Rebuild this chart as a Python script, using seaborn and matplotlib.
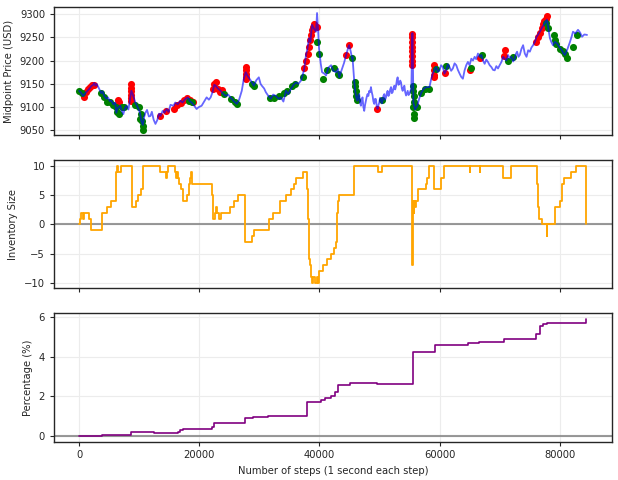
import numpy as np
import pandas as pd
import matplotlib
matplotlib.use("Agg")
import matplotlib.pyplot as plt
import seaborn as sns

# Midpoint price path (step, USD)
price_step = [0, 300, 668, 900, 1170, 1504, 1800, 2005, 2339, 2507, 2700, 2900, 3200, 3676, 3900,
              4178, 4512, 4800, 5100, 5347, 5700, 6000, 6183, 6400, 6851, 7100, 7352, 7600, 7854,
              8200, 8689, 8900, 9358, 9600, 9859, 10100, 10360, 10600, 10800, 11029, 11300, 11600,
              11864, 12100, 12400, 12700, 13000, 13300, 13535, 13900, 14200, 14538, 14900, 15200,
              15707, 16000, 16400, 16877, 17200, 17713, 18100, 18400, 18715, 19100, 19551, 19900,
              20386, 20800, 21222, 21600, 21890, 22200, 22500, 22726, 23100, 23561, 24000, 24397,
              24800, 25399, 25800, 26235, 26600, 27070, 27400, 27739, 28000, 28574, 28900, 29075,
              29500, 29911, 30200, 30412, 30800, 31081, 31500, 31916, 32300, 32752, 33200, 33587,
              34000, 34423, 34800, 35258, 35700, 36094, 36500, 36929, 37430, 37765, 38000, 38266,
              38500, 38767, 39100, 39436, 39603, 39800, 39937, 40200, 40438, 40800, 41107, 41500,
              41942, 42300, 42778, 43100, 43279, 43600, 43780, 44100, 44449, 44800, 44950, 45200,
              45451, 45502, 45786, 45953, 46150, 46337, 46480, 46621, 46760, 46905, 47040, 47172,
              47320, 47456, 47600, 47740, 47870, 48007, 48150, 48292, 48430, 48576, 48700, 48843,
              48990, 49127, 49270, 49411, 49540, 49679, 49820, 49963, 50100, 50247, 50380, 50514,
              50650, 50798, 50940, 51082, 51220, 51349, 51490, 51634, 51780, 51918, 52050, 52185,
              52330, 52469, 52610, 52753, 52890, 53020, 53160, 53305, 53450, 53589, 53720, 53856,
              54000, 54140, 54280, 54424, 54560, 54691, 54830, 54976, 55300, 55477, 55560, 55644,
              55900, 56313, 56600, 56982, 57400, 57817, 58319, 58600, 58871, 59150, 59439, 59700,
              59989, 60250, 60541, 60820, 61109, 61380, 61660, 61930, 62211, 62500, 62780, 63050,
              63331, 63600, 63882, 64020, 64166, 64440, 64718, 65000, 65286, 65560, 65837, 66100,
              66388, 66670, 66957, 67230, 67508, 67780, 68059, 68340, 68628, 68900, 69179, 69450,
              69730, 70000, 70299, 70570, 70850, 71120, 71401, 71680, 71969, 72240, 72521, 72700,
              72905, 73130, 73357, 73630, 73908, 74190, 74477, 74750, 75028, 75300, 75579, 75860,
              76147, 76364, 76700, 77033, 77400, 77868, 78100, 78370, 78600, 78871, 79200, 79539,
              79900, 80375, 80600, 80876, 81300, 81712, 82000, 82213, 82600, 83048, 83400, 83716,
              84100, 84552]
price_usd = [9135, 9131, 9124, 9128, 9132, 9137, 9141, 9145, 9148, 9152, 9146, 9150, 9143, 9130, 9134,
             9124, 9118, 9121, 9113, 9114, 9106, 9110, 9088, 9098, 9103, 9092, 9085, 9097, 9103,
             9095, 9135, 9128, 9110, 9104, 9096, 9089, 9070, 9062, 9078, 9088, 9094, 9080,
             9081, 9090, 9073, 9064, 9072, 9086, 9081, 9092, 9088, 9096, 9090, 9105,
             9103, 9110, 9106, 9114, 9110, 9118, 9121, 9113, 9110, 9104, 9096, 9100,
             9103, 9112, 9121, 9116, 9121, 9132, 9148, 9146, 9140, 9135, 9128, 9124,
             9127, 9118, 9112, 9107, 9115, 9135, 9160, 9175, 9168, 9157, 9150, 9146,
             9158, 9164, 9150, 9146, 9140, 9132, 9124, 9118, 9127, 9124, 9118, 9121,
             9112, 9135, 9128, 9139, 9148, 9153, 9150, 9157, 9179, 9212, 9225, 9248,
             9240, 9277, 9268, 9262, 9302, 9260, 9226, 9195, 9175, 9172, 9168, 9185,
             9190, 9178, 9175, 9182, 9164, 9176, 9183, 9195, 9212, 9228, 9233, 9220,
             9204, 9208, 9157, 9135, 9120, 9114, 9126, 9128, 9110, 9103, 9115, 9121,
             9100, 9092, 9105, 9114, 9122, 9128, 9124, 9135, 9132, 9143, 9133, 9125,
             9112, 9107, 9118, 9117, 9102, 9096, 9104, 9110, 9120, 9117, 9108, 9114,
             9124, 9128, 9116, 9121, 9130, 9135, 9124, 9128, 9138, 9143, 9130, 9132,
             9141, 9146, 9138, 9145, 9158, 9164, 9148, 9150, 9157, 9153, 9140, 9135,
             9142, 9146, 9132, 9125, 9130, 9135, 9126, 9128, 9140, 9259, 9200, 9110,
             9095, 9103, 9118, 9132, 9140, 9143, 9143, 9160, 9172, 9180, 9186, 9176,
             9179, 9190, 9186, 9172, 9179, 9192, 9186, 9178, 9183, 9194, 9190, 9180,
             9172, 9165, 9161, 9170, 9179, 9190, 9197, 9190, 9204, 9200, 9208, 9203,
             9215, 9208, 9212, 9200, 9193, 9202, 9197, 9190, 9186, 9180, 9179, 9188,
             9183, 9190, 9197, 9208, 9204, 9200, 9212, 9205, 9208, 9198, 9204, 9214,
             9219, 9208, 9212, 9225, 9233, 9215, 9208, 9222, 9219, 9228, 9233, 9240,
             9251, 9255, 9262, 9270, 9278, 9288, 9270, 9248, 9240, 9233, 9240, 9237,
             9230, 9222, 9216, 9212, 9225, 9240, 9252, 9262, 9258, 9266, 9260, 9251,
             9256, 9255]

# Sell trades (red)
sell_step = [836, 1170, 1504, 1838, 2172, 2507, 6517, 6684,
             8689, 8689, 8689, 8689, 8689, 8689,
             13535, 14538, 15707, 16209, 16877, 17378, 17880, 18381, 18882,
             22224, 22391, 22726, 23060, 23394, 23728,
             27739, 27739, 27739, 27739, 27739,
             37430, 37765, 38099, 38266, 38433, 38600, 38767, 38934, 39101, 39268, 39603,
             44449, 44950, 49629,
             55477, 55477, 55477, 55477, 55477, 55477, 55477, 55477, 55978,
             59153, 59153, 59153, 59153, 60824, 65002, 66673, 70684, 70850,
             76031, 76364, 76699, 77033, 77200, 77367, 77701, 77868]
sell_price = [9121, 9132, 9138, 9143, 9147, 9148, 9116, 9110,
              9150, 9142, 9135, 9127, 9120, 9114,
              9081, 9092, 9097, 9104, 9108, 9115, 9120, 9115, 9112,
              9138, 9150, 9155, 9140, 9132, 9136,
              9186, 9179, 9172, 9165, 9160,
              9185, 9200, 9215, 9230, 9245, 9255, 9265, 9272, 9278, 9275, 9272,
              9212, 9233, 9095,
              9258, 9250, 9240, 9230, 9220, 9210, 9200, 9190, 9105,
              9190, 9180, 9170, 9165, 9173, 9180, 9205, 9210, 9222,
              9240, 9250, 9260, 9270, 9278, 9285, 9290, 9295]

# Buy trades (green)
buy_step = [0, 501, 3676, 4178, 4679, 5180, 5681, 6183, 6350, 6684, 7185, 7520,
            9358, 10026, 10193, 10360, 10527, 10600, 10694, 18214, 18715,
            24062, 25232, 25901, 26235, 28741, 29075,
            31749, 32417, 33253, 34088, 34590, 35425, 35927, 37263,
            39603, 39937, 40605, 41274, 42443, 43112, 43279, 45451,
            45953, 45953, 46120, 46120, 46287, 50464,
            55644, 55644, 55811, 55811, 55644, 55811, 55811, 56313,
            56982, 57650, 58319, 59488, 60992, 65169, 67007, 71352, 72187,
            77701, 78036, 79038, 79205, 79372, 80041, 80542, 80876, 81210, 82213, 82881]
buy_price = [9135, 9130, 9130, 9122, 9112, 9110, 9105, 9100, 9090, 9085, 9100, 9100,
             9105, 9100, 9075, 9085, 9070, 9052, 9060, 9113, 9110,
             9128, 9118, 9112, 9107, 9150, 9145,
             9120, 9120, 9123, 9130, 9135, 9145, 9150, 9165,
             9240, 9215, 9161, 9180, 9185, 9172, 9168, 9205,
             9155, 9145, 9135, 9125, 9115, 9116,
             9145, 9135, 9125, 9110, 9100, 9085, 9077, 9100,
             9130, 9138, 9140, 9182, 9188, 9185, 9212, 9200, 9207,
             9280, 9270, 9255, 9245, 9235, 9225, 9220, 9215, 9205, 9230, 9255]

# Inventory (step-post)
inv_step = [0, 111, 278, 557, 836, 1616, 1950, 3732, 4568, 5236, 6127, 6350, 6517, 6962,
            8745, 9414, 9748, 10249, 10583, 10694, 13480, 14480, 14650, 14760, 15875, 16100,
            16265, 16430, 16660, 16990, 17270, 17935, 18214, 18380, 18600, 18770, 22110, 22340,
            22560, 22840, 23010, 23340, 23560, 25180, 25730, 26400, 27680, 28790, 29190, 31580,
            32300, 33370, 34370, 35200, 35700, 36040, 37260, 37990, 38100, 38210, 38430, 38600,
            38770, 38990, 39220, 39550, 39720, 39940, 40600, 41270, 41890, 42440, 42720, 42950,
            43100, 43270, 45790, 49680, 50410, 55370, 55450, 55530, 55620, 55700, 55810, 55980,
            56100, 56370, 57770, 57930, 58320, 59150, 60270, 60820, 65000, 65100, 66670, 66800,
            70570, 71970, 76150, 76400, 76600, 76980, 77250, 77810, 77900, 79200, 80040, 80430,
            80770, 81830, 82660, 84390]
inv_size = [0, 1, 2, 1, 2, 1, -1, 2, 3, 4, 9, 10, 9, 10,
            3, 4, 5, 6, 8, 10, 9, 8, 9, 10, 9, 8,
            9, 8, 7, 6, 4, 5, 7, 8, 9, 7, 5, 1,
            2, 3, 2, 1, 2, 3, 4, 5, -3, -2, -1, 1,
            2, 4, 5, 6, 7, 8, 9, 6, 1, -6, -7, -9,
            -10, -9, -10, -9, -10, -8, -7, -6, -5, -4, -3, 2,
            4, 5, 10, 9, 10, 6, -7, 1, 4, 2, 4, 3,
            4, 6, 7, 8, 10, 6, 8, 10, 9, 10, 9, 10,
            8, 10, 7, 3, 1, 0, 0, -2, 0, 3, 4, 7,
            8, 9, 10, 0]

# Cumulative percentage (step-post)
pct_step = [0, 3770, 6200, 8625, 12500, 16220, 16400, 16800, 17250, 21990, 22110, 22410,
            27580, 27900, 29000, 31520, 37900, 40330, 40940, 41910, 42640, 43070, 45070,
            49620, 55520, 59160, 59300, 64810, 66630, 70700, 76050, 76650, 77260, 77870, 84430]
pct_value = [0.0, 0.04, 0.02, 0.17, 0.15, 0.14, 0.2, 0.27, 0.34, 0.36, 0.45, 0.62,
             0.89, 0.92, 0.97, 1.01, 1.73, 1.81, 1.89, 2.03, 2.2, 2.56, 2.66,
             2.6, 4.24, 4.58, 4.6, 4.66, 4.74, 4.9, 5.16, 5.55, 5.66, 5.7, 5.88]

sns.set_style("ticks", {"axes.grid": True, "grid.color": "#ececec",
                        "axes.edgecolor": ".15", "xtick.color": ".15", "ytick.color": ".15"})
plt.rcParams["font.family"] = ["DejaVu Sans"]
plt.rcParams["font.size"] = 7.2
plt.rcParams["xtick.major.size"] = 2.8
plt.rcParams["ytick.major.size"] = 2.8

fig, axes = plt.subplots(3, 1, figsize=(6.18, 4.8), dpi=100, sharex=True)
fig.subplots_adjust(left=0.087, right=0.991, top=0.985, bottom=0.080, hspace=0.195)

# Price with trades underneath
ax = axes[0]
sns.scatterplot(x=sell_step, y=sell_price, color="red", s=26, linewidth=0, ax=ax, zorder=2)
sns.scatterplot(x=buy_step, y=buy_price, color="green", s=26, linewidth=0, ax=ax, zorder=2)
sns.lineplot(x=price_step, y=price_usd, color="blue", alpha=0.6, lw=1.3, ax=ax,
             estimator=None, sort=False, zorder=3)
ax.set_ylabel("Midpoint Price (USD)")

# Inventory
ax = axes[1]
sns.lineplot(x=inv_step, y=inv_size, color="orange", lw=1.3, drawstyle="steps-post",
             estimator=None, sort=False, ax=ax, zorder=3)
ax.axhline(0, color="gray", alpha=0.8, lw=1.5, zorder=2)
ax.set_yticks([-10, -5, 0, 5, 10])
ax.set_ylabel("Inventory Size")

# Percentage
ax = axes[2]
sns.lineplot(x=pct_step, y=pct_value, color="purple", lw=1.2, drawstyle="steps-post",
             estimator=None, sort=False, ax=ax, zorder=3)
ax.axhline(0, color="gray", alpha=0.8, lw=1.5, zorder=2)
ax.set_yticks([0, 2, 4, 6])
ax.set_ylabel("Percentage (%)")
ax.set_xlabel("Number of steps (1 second each step)")
ax.set_xticks([0, 20000, 40000, 60000, 80000])

for a in axes:
    for s in a.spines.values():
        s.set_linewidth(1.0)

fig.savefig("out.png", dpi=100)
